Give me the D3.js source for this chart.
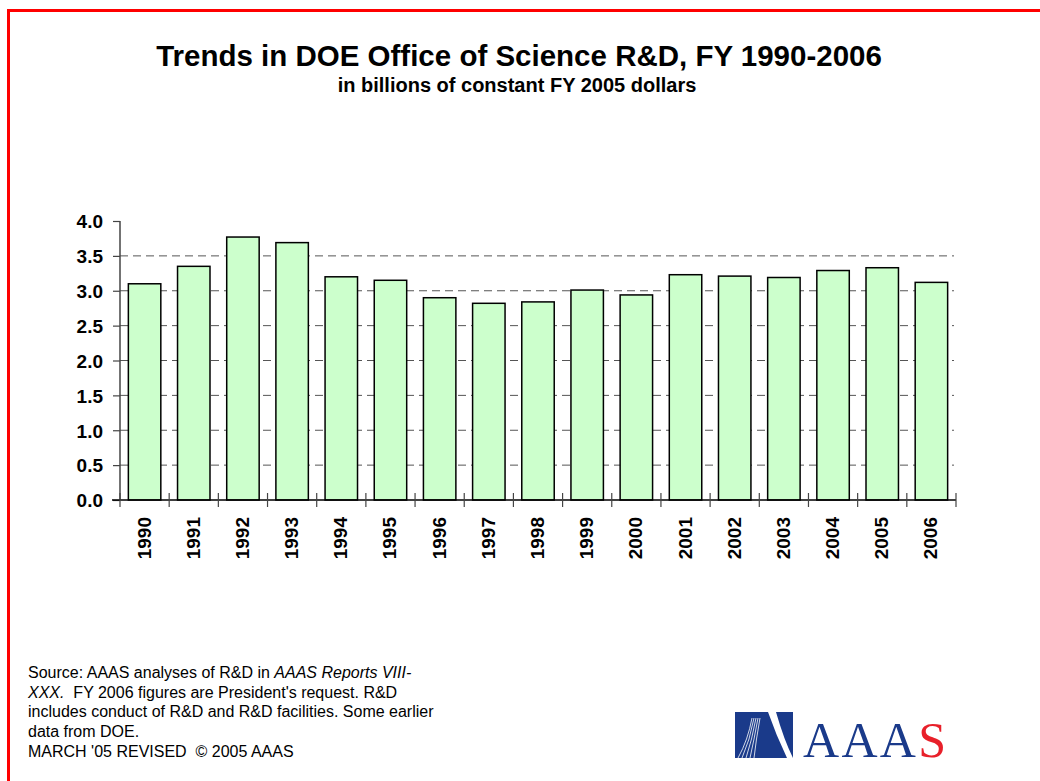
<!DOCTYPE html>
<html><head><meta charset="utf-8">
<script src="https://cdn.jsdelivr.net/npm/d3@7"></script>
<style>body{margin:0;background:#fff}svg{display:block}</style>
</head><body>
<script>
const years = ["1990","1991","1992","1993","1994","1995","1996","1997","1998","1999","2000","2001","2002","2003","2004","2005","2006"];
const values = [3.10,3.35,3.77,3.69,3.20,3.15,2.90,2.82,2.84,3.01,2.94,3.23,3.21,3.19,3.29,3.33,3.12];
const yTicks = [0,0.5,1,1.5,2,2.5,3,3.5,4];
const gridLines = [0.5,1,1.5,2,2.5,3,3.5];
const sourceLines = [
  [["Source: AAAS analyses of R&D in ",false],["AAAS Reports VIII-",true]],
  [["XXX.",true],["  FY 2006 figures are President's request. R&D",false]],
  [["includes conduct of R&D and R&D facilities. Some earlier",false]],
  [["data from DOE.",false]],
  [["MARCH '05 REVISED  \u00A9 2005 AAAS",false]]
];

const W=1040,H=781;
const FONT="Liberation Sans, Arial, sans-serif";
const svg=d3.select("body").append("svg").attr("width",W).attr("height",H);
svg.append("rect").attr("x",8.5).attr("y",10.5).attr("width",W).attr("height",H).attr("fill","none").attr("stroke","#ff0000").attr("stroke-width",3);

svg.append("text").attr("x",519).attr("y",66).attr("text-anchor","middle")
  .attr("font-family",FONT).attr("font-weight","bold").attr("font-size",29.5)
  .text("Trends in DOE Office of Science R&D, FY 1990-2006");
svg.append("text").attr("x",517).attr("y",92).attr("text-anchor","middle")
  .attr("font-family",FONT).attr("font-weight","bold").attr("font-size",20)
  .text("in billions of constant FY 2005 dollars");

const x0=120,x1=956,yB=500,yT=221;
const x=d3.scaleBand().domain(years).range([x0,x1]).paddingInner(0.34).paddingOuter(0.17);
const y=d3.scaleLinear().domain([0,4]).range([yB,yT]);

const g=svg.append("g");
g.selectAll("line.grid").data(gridLines).enter().append("line")
  .attr("x1",x0).attr("x2",954).attr("y1",d=>y(d)).attr("y2",d=>y(d))
  .attr("stroke","#555").attr("stroke-width",1).attr("stroke-dasharray","8,5");

g.selectAll("rect.bar").data(values).enter().append("rect")
  .attr("x",(d,i)=>x(years[i])).attr("width",x.bandwidth())
  .attr("y",d=>y(d)).attr("height",d=>yB-y(d))
  .attr("fill","#ccffcc").attr("stroke","#000").attr("stroke-width",1.5);

// y axis
const ya=svg.append("g").attr("transform",`translate(${x0},0)`)
  .call(d3.axisLeft(y).tickValues(yTicks).tickFormat(d3.format(".1f")).tickSize(7).tickPadding(10));
ya.select(".domain").attr("stroke","#444").attr("stroke-width",1.5).attr("d",`M0,${yB}V${yT}`);
ya.selectAll(".tick line").attr("stroke","#444").attr("stroke-width",1.2);
ya.selectAll(".tick text").attr("font-family",FONT).attr("font-weight","bold").attr("font-size",19).attr("fill","#000").attr("dy","0.36em");

// x axis
const xa=svg.append("g");
xa.append("line").attr("x1",x0-8).attr("x2",x1).attr("y1",yB).attr("y2",yB).attr("stroke","#000").attr("stroke-width",1.5);
const bounds=years.map(d=>x(d)-x.step()*x.paddingInner()/2).concat([x1]);
xa.selectAll("line.t").data(bounds).enter().append("line")
  .attr("x1",d=>d).attr("x2",d=>d).attr("y1",yB-7).attr("y2",yB+7).attr("stroke","#444").attr("stroke-width",1.2);
xa.selectAll("text").data(years).enter().append("text")
  .attr("transform",d=>`translate(${x(d)+x.bandwidth()/2+6},517) rotate(-90)`)
  .attr("text-anchor","end")
  .attr("font-family",FONT).attr("font-weight","bold").attr("font-size",19)
  .text(d=>d);

// source text
const st=svg.append("g").attr("font-family",FONT).attr("font-size",16).attr("fill","#000");
sourceLines.forEach((ln,i)=>{
  const t=st.append("text").attr("x",28).attr("y",678+i*19.7).attr("xml:space","preserve");
  ln.forEach(([s,it])=>t.append("tspan").attr("font-style",it?"italic":"normal").text(s));
});

// AAAS logo
const lg=svg.append("g");
lg.append("rect").attr("x",735).attr("y",712).attr("width",58).attr("height",46).attr("fill","#1a3a8a");
lg.append("path").attr("d","M768,712 L776,712 Q784,740 793,758 L787,758 Q776,735 768,712 Z").attr("fill","#fff");
[0,4,8,12,16].forEach(o=>lg.append("path").attr("d",`M${752+o/2},718 Q${748+o/2},740 ${738+o},758`).attr("fill","none").attr("stroke","#fff").attr("stroke-width",0.8));
const lt=lg.append("text").attr("x",803).attr("y",757).attr("font-family","Liberation Serif, Times New Roman, serif").attr("font-size",50).attr("textLength",143);
lt.append("tspan").attr("fill","#1a3a8a").text("AAA");
lt.append("tspan").attr("fill","#e8202a").text("S");
</script>
</body></html>
